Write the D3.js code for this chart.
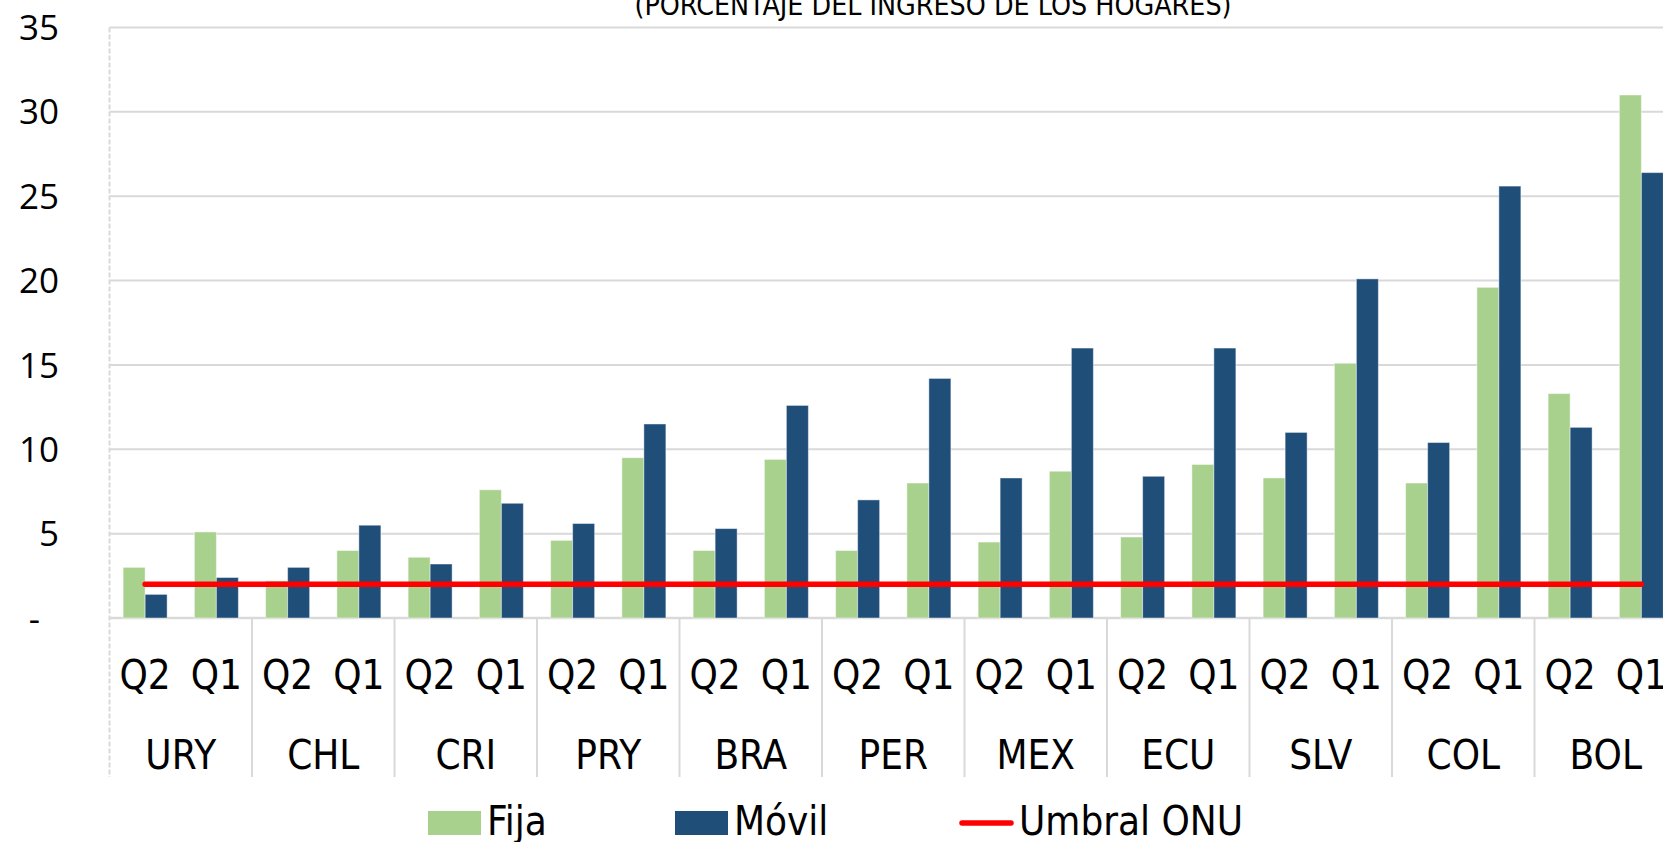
<!DOCTYPE html>
<head>
    <meta charset="utf-8">
    <script src="https://d3js.org/d3.v7.min.js"></script>
    <style>
        body { margin: 0; background: #fff; }
        text { fill: #000; }
    </style>
</head>
<body>
    <script>
        ////////////// Data //////////////

        const countries = ["URY", "CHL", "CRI", "PRY", "BRA", "PER", "MEX", "ECU", "SLV", "COL", "BOL"]
        const quintiles = ["Q2", "Q1"]
        const series = ["Fija", "Móvil"]

        //one value per country and quintile, in order Q2, Q1
        const fija = [3.0, 5.1, 2.2, 4.0, 3.6, 7.6, 4.6, 9.5, 4.0, 9.4, 4.0, 8.0, 4.5, 8.7, 4.8, 9.1, 8.3, 15.1, 8.0, 19.6, 13.3, 31.0]
        const movil = [1.4, 2.4, 3.0, 5.5, 3.2, 6.8, 5.6, 11.5, 5.3, 12.6, 7.0, 14.2, 8.3, 16.0, 8.4, 16.0, 11.0, 20.1, 10.4, 25.6, 11.3, 26.4]
        const umbral = 2

        const y_ticks = [0, 5, 10, 15, 20, 25, 30, 35]
        const title = "(PORCENTAJE DEL INGRESO DE LOS HOGARES)"

        const colors = { "Fija": "#a9d18e", "Móvil": "#1f4e79" }

        ////////////// Create the SVG //////////////

        let width = 1663,
            height = 842

        let svg = d3.select("body")
            .append("svg")
            .attr("width", width)
            .attr("height", height)

        const cat_font = "'Liberation Sans Narrow', 'DejaVu Sans Condensed', sans-serif"

        ////////////// Scales //////////////

        const left = 109.5,
            country_w = 142.5

        const x_country = d3.scaleBand()
            .domain(countries)
            .range([left, left + countries.length * country_w])

        const x_quint = d3.scaleBand()
            .domain(quintiles)
            .range([0, country_w])

        const bar_w = 22
        const x_series = d3.scaleBand()
            .domain(series)
            .range([-bar_w, bar_w])

        const y_scale = d3.scaleLinear()
            .domain([0, 35])
            .range([618, 27.5])

        //flatten to rows
        let rows = []
        countries.forEach((c, i) => {
            quintiles.forEach((q, j) => {
                let k = i * 2 + j
                rows.push({ country: c, q: q, "Fija": fija[k], "Móvil": movil[k],
                    cx: x_country(c) + x_quint(q) + x_quint.bandwidth() / 2 })
            })
        })

        ////////////// Gridlines & axis //////////////

        svg.append("g").selectAll("line")
            .data(y_ticks.filter(d => d > 0))
            .enter().append("line")
            .attr("x1", left).attr("x2", width)
            .attr("y1", d => y_scale(d)).attr("y2", d => y_scale(d))
            .style("stroke", "#d9d9d9")
            .style("stroke-width", 2)

        //y tick labels
        svg.append("g").selectAll("text")
            .data(y_ticks)
            .enter().append("text")
            .attr("x", d => d === 0 ? 40 : 59)
            .attr("y", d => y_scale(d))
            .attr("dy", "0.36em")
            .attr("text-anchor", "end")
            .style("font-family", "'Open Sans', sans-serif")
            .style("font-size", "35px")
            .text(d => d === 0 ? "-" : d)

        //bottom category area
        const cat_bottom = 777
        svg.append("line")
            .attr("x1", left).attr("x2", width)
            .attr("y1", y_scale(0)).attr("y2", y_scale(0))
            .style("stroke", "#d9d9d9")
            .style("stroke-width", 2.5)

        svg.append("line")
            .attr("x1", left).attr("x2", left)
            .attr("y1", y_scale(35)).attr("y2", cat_bottom)
            .style("stroke", "#d9d9d9")
            .style("stroke-width", 2)
            .style("stroke-dasharray", "5,2")

        svg.append("g").selectAll("line")
            .data(countries.slice(1))
            .enter().append("line")
            .attr("x1", d => x_country(d)).attr("x2", d => x_country(d))
            .attr("y1", y_scale(0)).attr("y2", cat_bottom)
            .style("stroke", "#d9d9d9")
            .style("stroke-width", 2)

        ////////////// Bars //////////////

        let bar_g = svg.append("g")
        series.forEach(s => {
            bar_g.selectAll(".bar-" + (s === "Fija" ? "f" : "m"))
                .data(rows)
                .enter().append("rect")
                .attr("x", d => d.cx + x_series(s))
                .attr("width", x_series.bandwidth())
                .attr("y", d => y_scale(d[s]))
                .attr("height", d => y_scale(0) - y_scale(d[s]))
                .style("fill", colors[s])
                .style("stroke", "rgba(255,255,255,0.45)")
                .style("stroke-width", 1)
        })

        ////////////// Umbral line //////////////

        svg.append("line")
            .attr("x1", rows[0].cx)
            .attr("x2", rows[rows.length - 1].cx)
            .attr("y1", y_scale(umbral)).attr("y2", y_scale(umbral))
            .style("stroke", "#ff0000")
            .style("stroke-width", 5.5)
            .style("stroke-linecap", "round")

        ////////////// Category labels //////////////

        svg.append("g").selectAll("text")
            .data(rows)
            .enter().append("text")
            .attr("x", d => d.cx)
            .attr("y", 689)
            .attr("text-anchor", "middle")
            .style("font-family", cat_font)
            .style("font-size", "40px")
            .text(d => d.q)

        svg.append("g").selectAll("text")
            .data(countries)
            .enter().append("text")
            .attr("x", d => x_country(d) + x_country.bandwidth() / 2)
            .attr("y", 769)
            .attr("text-anchor", "middle")
            .style("font-family", cat_font)
            .style("font-size", "40px")
            .text(d => d)

        ////////////// Title (cut off at top) //////////////

        svg.append("text")
            .attr("x", 933)
            .attr("y", 15)
            .attr("text-anchor", "middle")
            .attr("textLength", 597)
            .attr("lengthAdjust", "spacingAndGlyphs")
            .style("font-family", cat_font)
            .style("font-size", "29px")
            .text(title)

        ////////////// Legend //////////////

        let legend = svg.append("g")
        const leg_items = [
            { label: "Fija", x: 428, type: "rect" },
            { label: "Móvil", x: 675, type: "rect" },
            { label: "Umbral ONU", x: 960, type: "line" }
        ]
        leg_items.forEach(d => {
            if (d.type === "rect") {
                legend.append("rect")
                    .attr("x", d.x).attr("y", 811)
                    .attr("width", 53).attr("height", 24)
                    .style("fill", colors[d.label])
            } else {
                legend.append("line")
                    .attr("x1", d.x + 2).attr("x2", d.x + 51)
                    .attr("y1", 823).attr("y2", 823)
                    .style("stroke", "#ff0000")
                    .style("stroke-width", 5.5)
                    .style("stroke-linecap", "round")
            }
            legend.append("text")
                .attr("x", d.x + 59)
                .attr("y", 835)
                .style("font-family", cat_font)
                .style("font-size", "40px")
                .text(d.label)
        })
    </script>
</body>
